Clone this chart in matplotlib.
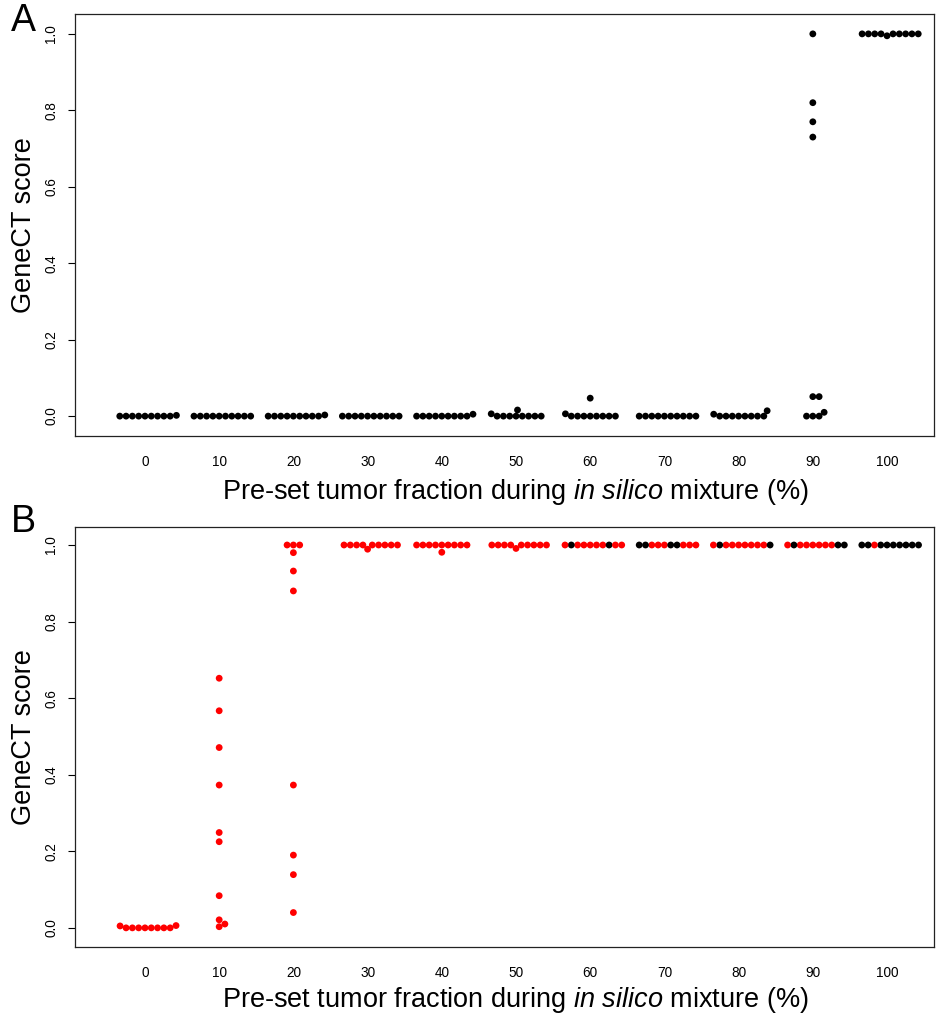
import matplotlib.pyplot as plt
import numpy as np

plt.rcParams['font.family'] = ['Liberation Sans', 'DejaVu Sans']
plt.rcParams['mathtext.fontset'] = 'custom'
plt.rcParams['mathtext.rm'] = 'Liberation Sans'
plt.rcParams['mathtext.it'] = 'Liberation Sans:italic'

# pre-set tumor fraction (%) of each in silico mixture
fractions = [0, 10, 20, 30, 40, 50, 60, 70, 80, 90, 100]

# panel A: GeneCT score of the 10 replicates per mixture
scores_a = [
    [0, 0, 0, 0, 0, 0, 0, 0, 0, 0.002],
    [0, 0, 0, 0, 0, 0, 0, 0, 0, 0],
    [0, 0, 0, 0, 0, 0, 0, 0, 0, 0.003],
    [0, 0, 0, 0, 0, 0, 0, 0, 0, 0],
    [0, 0, 0, 0, 0, 0, 0, 0, 0, 0.005],
    [0.006, 0.016, 0, 0, 0, 0, 0, 0, 0, 0],
    [0.047, 0.006, 0, 0, 0, 0, 0, 0, 0, 0],
    [0, 0, 0, 0, 0, 0, 0, 0, 0, 0],
    [0.014, 0.005, 0, 0, 0, 0, 0, 0, 0, 0],
    [0, 0, 0, 0.01, 0.051, 0.051, 0.73, 0.77, 0.82, 1.0],
    [1.0, 1.0, 1.0, 1.0, 1.0, 0.995, 1.0, 1.0, 1.0, 1.0],
]

# panel B: GeneCT score of the 10 replicates per mixture
scores_b = [
    [0.005, 0.006, 0, 0, 0, 0, 0, 0, 0, 0],
    [0.652, 0.567, 0.471, 0.373, 0.249, 0.225, 0.084, 0.021, 0.003, 0.010],
    [1.0, 1.0, 1.0, 0.98, 0.932, 0.88, 0.373, 0.19, 0.139, 0.04],
    [1.0, 1.0, 1.0, 1.0, 0.989, 1.0, 1.0, 1.0, 1.0, 1.0],
    [1.0, 1.0, 1.0, 1.0, 1.0, 0.981, 1.0, 1.0, 1.0, 1.0],
    [1.0, 1.0, 1.0, 1.0, 0.991, 1.0, 1.0, 1.0, 1.0, 1.0],
    [1.0, 1.0, 1.0, 1.0, 1.0, 1.0, 1.0, 1.0, 1.0, 1.0],
    [1.0, 1.0, 1.0, 1.0, 1.0, 1.0, 1.0, 1.0, 1.0, 1.0],
    [1.0, 1.0, 1.0, 1.0, 1.0, 1.0, 1.0, 1.0, 1.0, 1.0],
    [1.0, 1.0, 1.0, 1.0, 1.0, 1.0, 1.0, 1.0, 1.0, 1.0],
    [1.0, 1.0, 1.0, 1.0, 1.0, 1.0, 1.0, 1.0, 1.0, 1.0],
]
# panel B: 1 = replicate drawn black, 0 = drawn red
black_b = [
    [0, 0, 0, 0, 0, 0, 0, 0, 0, 0],
    [0, 0, 0, 0, 0, 0, 0, 0, 0, 0],
    [0, 0, 0, 0, 0, 0, 0, 0, 0, 0],
    [0, 0, 0, 0, 0, 0, 0, 0, 0, 0],
    [0, 0, 0, 0, 0, 0, 0, 0, 0, 0],
    [0, 0, 0, 0, 0, 0, 0, 0, 0, 0],
    [0, 0, 0, 0, 0, 1, 1, 0, 0, 0],
    [0, 1, 0, 1, 0, 0, 1, 0, 1, 0],
    [0, 0, 0, 0, 0, 0, 1, 0, 0, 1],
    [0, 0, 0, 0, 0, 0, 1, 1, 0, 1],
    [1, 1, 1, 1, 0, 1, 1, 1, 1, 1],
]

DOT = 6.3  # swarm spacing in pixels


def swarm(ypx, d=DOT):
    # beeswarm "swarm" layout, ascending priority
    n = len(ypx)
    off = np.zeros(n)
    placed = []
    for i in np.argsort(ypx, kind='stable'):
        near = [j for j in placed if abs(ypx[i] - ypx[j]) < d]
        if near:
            near.sort(key=lambda j: abs(ypx[i] - ypx[j]))
            w = [np.sqrt(d * d - (ypx[i] - ypx[j]) ** 2) for j in near]
            cands = [0.0] + [off[j] + a for j, a in zip(near, w)] + [off[j] - a for j, a in zip(near, w)]
            best = None
            for c in cands:
                ok = all((c - off[j]) ** 2 + (ypx[i] - ypx[j]) ** 2 >= 0.999 * d * d for j in near)
                if ok and (best is None or abs(c) < abs(best)):
                    best = c
            off[i] = best
        placed.append(i)
    return off


def panel(ax, scores, flags, ylim, xpad):
    ax.set_xlim(-9.43, 106.33)
    ax.set_ylim(*ylim)
    tr = ax.transData
    px_x = tr.transform((1, 0))[0] - tr.transform((0, 0))[0]
    for k, frac in enumerate(fractions):
        y = np.array(scores[k], dtype=float)
        ypx = np.array([tr.transform((0, v))[1] for v in y])
        x = frac + swarm(ypx) / px_x
        cols = ['black' if f else 'red' for f in flags[k]]
        ax.scatter(x, y, s=24, c=cols, linewidths=0, zorder=3)
    ax.set_xticks(fractions)
    ax.set_xticklabels([str(f) for f in fractions])
    ax.set_yticks([0, 0.2, 0.4, 0.6, 0.8, 1.0])
    ax.set_yticklabels(['0.0', '0.2', '0.4', '0.6', '0.8', '1.0'])
    ax.tick_params(axis='x', length=0, pad=13.5, labelsize=9.8)
    ax.tick_params(axis='y', direction='out', length=5, width=0.8, pad=7,
                   labelsize=9.8, labelrotation=90)
    for t in ax.get_yticklabels():
        t.set_va('center')
    for s in ax.spines.values():
        s.set_linewidth(0.9)
        s.set_color('#222222')
    ax.set_ylabel('GeneCT score', fontsize=19.5, labelpad=5)
    ax.set_xlabel('Pre-set tumor fraction during $\\mathit{in\\ silico}$ mixture (%)',
                  fontsize=19.5, labelpad=xpad)
    ax.xaxis.label.set_x(0.513)


fig = plt.figure(figsize=(9.46, 10.14), dpi=100)
ax_a = fig.add_axes([75 / 946, 1 - 436 / 1014, 859 / 946, 422 / 1014])
ax_b = fig.add_axes([75 / 946, 1 - 947 / 1014, 859 / 946, 420 / 1014])

panel(ax_a, scores_a, [[1] * len(s) for s in scores_a], (-0.052, 1.052), 6)
panel(ax_b, scores_b, black_b, (-0.05, 1.047), 3.5)

fig.text(23 / 946, 1 - 21 / 1014, 'A', fontsize=27, ha='center', va='center')
fig.text(23 / 946, 1 - 522 / 1014, 'B', fontsize=27, ha='center', va='center')

fig.savefig('out.png', dpi=100)
